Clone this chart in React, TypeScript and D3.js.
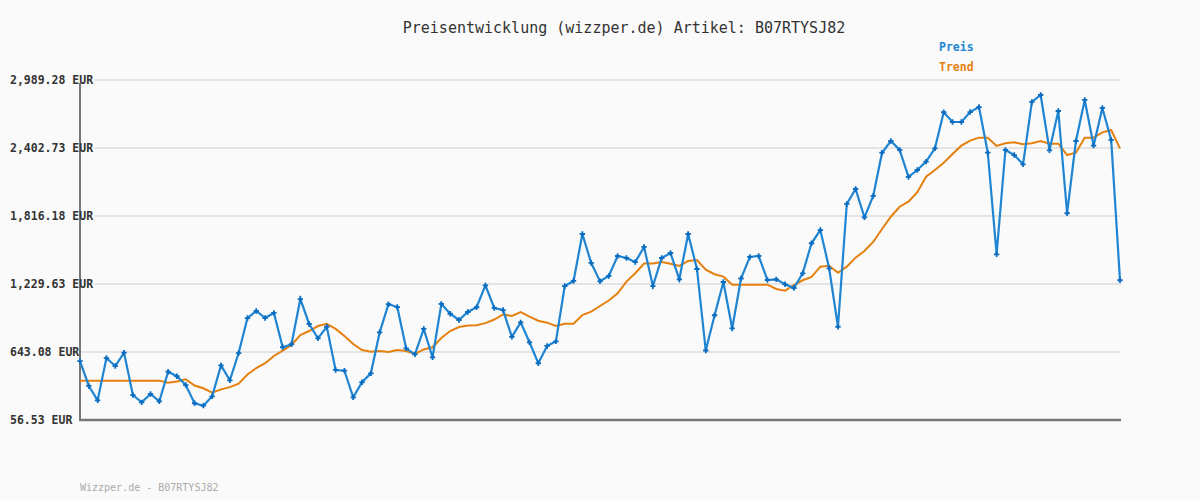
import React from "react";
import * as d3 from "d3";

const TITLE = "Preisentwicklung (wizzper.de) Artikel: B07RTYSJ82";
const FOOTER = "Wizzper.de - B07RTYSJ82";
const SERIES_NAMES = ["Preis", "Trend"];
const Y_TICKS = [56.53, 643.08, 1229.63, 1816.18, 2402.73, 2989.28];

const PREIS = [
  565, 350, 226, 591, 522, 637, 272, 209, 281, 218,
  473, 434, 358, 201, 180, 261, 528, 399, 634, 936,
  997, 936, 980, 684, 710, 1100, 885, 761, 861, 488,
  482, 252, 382, 459, 813, 1055, 1031, 675, 623, 842,
  597, 1057, 973, 919, 988, 1029, 1218, 1023, 1005, 773,
  899, 727, 546, 695, 735, 1212, 1256, 1661, 1411, 1253,
  1299, 1471, 1454, 1419, 1549, 1212, 1454, 1497, 1270, 1661,
  1359, 656, 960, 1247, 846, 1277, 1463, 1471, 1264, 1270,
  1227, 1195, 1322, 1581, 1695, 1365, 861, 1920, 2049, 1805,
  1989, 2362, 2463, 2386, 2153, 2213, 2285, 2400, 2711, 2627,
  2627, 2713, 2756, 2362, 1486, 2386, 2342, 2262, 2800, 2860,
  2383, 2722, 1840, 2463, 2817, 2423, 2748, 2472, 1262,
];

const TREND = [
  396, 396, 396, 396, 396, 396, 396, 396, 396, 396,
  378, 389, 408, 354, 330, 292, 321, 340, 370, 449,
  505, 546, 609, 654, 704, 790, 824, 867, 887, 842,
  781, 712, 660, 646, 652, 643, 660, 652, 626, 665,
  684, 764, 824, 859, 872, 873, 892, 923, 967, 954,
  988, 948, 913, 896, 867, 887, 887, 962, 991, 1040,
  1087, 1149, 1250, 1322, 1406, 1406, 1419, 1405, 1385, 1428,
  1437, 1353, 1314, 1293, 1224, 1224, 1224, 1224, 1224, 1187,
  1172, 1221, 1262, 1290, 1379, 1387, 1327, 1379, 1457, 1514,
  1592, 1704, 1810, 1896, 1940, 2021, 2155, 2213, 2276, 2351,
  2423, 2466, 2492, 2492, 2420, 2443, 2452, 2435, 2443, 2463,
  2440, 2440, 2342, 2362, 2492, 2492, 2538, 2558, 2400,
];

const W = 1200;
const H = 500;
const BLUE = "#1f84d2";
const BLUE_DARK = "#0a6cbf";
const ORANGE = "#e5800f";
const MONO = "'DejaVu Sans Mono', monospace";

export default function App() {
  const x = d3.scaleLinear().domain([0, PREIS.length - 1]).range([80, 1120]);
  const y = d3.scaleLinear().domain([Y_TICKS[0], Y_TICKS[Y_TICKS.length - 1]]).range([420, 80]);
  const fmt = d3.format(",.2f");

  const line = d3
    .line<number>()
    .x((_, i) => x(i))
    .y((d) => y(d));

  const cross = d3.symbol().type(d3.symbolCross).size(16)();
  const labelCharW = 6.93;

  return (
    <svg
      width={W}
      height={H}
      style={{ position: "fixed", left: 0, top: 0, background: "#fafafa" }}
    >
      <rect x={0} y={0} width={W} height={H} fill="#fafafa" />
      <text
        x={624}
        y={33}
        textAnchor="middle"
        fontFamily={MONO}
        fontSize={15}
        fill="#333"
      >
        {TITLE}
      </text>

      {Y_TICKS.map((t, i) => {
        const label = `${fmt(t)} EUR`;
        const x0 = Math.max(80, 10 + label.length * labelCharW + 1);
        return i === 0 ? null : (
          <line
            key={"g" + i}
            x1={x0}
            x2={1121}
            y1={y(t)}
            y2={y(t)}
            stroke="#e4e4e4"
            strokeWidth={2}
          />
        );
      })}

      <line x1={80} x2={80} y1={83} y2={421} stroke="#777" strokeWidth={2} />
      <line x1={79} x2={1121} y1={420} y2={420} stroke="#777" strokeWidth={2.5} />

      {Y_TICKS.map((t, i) => (
        <text
          key={"t" + i}
          x={10}
          y={y(t)}
          dy="0.36em"
          fontFamily={MONO}
          fontWeight="bold"
          fontSize={11.5}
          fill="#333"
        >
          {`${fmt(t)} EUR`}
        </text>
      ))}

      <path d={line(TREND) || ""} fill="none" stroke={ORANGE} strokeWidth={2} />
      <path d={line(PREIS) || ""} fill="none" stroke={BLUE} strokeWidth={2.2} />
      {PREIS.map((d, i) => (
        <path
          key={"m" + i}
          d={cross || ""}
          transform={`translate(${x(i)},${y(d)})`}
          fill={BLUE_DARK}
        />
      ))}

      <text x={939} y={47} dy="0.36em" fontFamily={MONO} fontWeight="bold" fontSize={11.5} fill={BLUE}>
        {SERIES_NAMES[0]}
      </text>
      <text x={939} y={67} dy="0.36em" fontFamily={MONO} fontWeight="bold" fontSize={11.5} fill={ORANGE}>
        {SERIES_NAMES[1]}
      </text>

      <text x={80} y={487} dy="0.36em" fontFamily={MONO} fontSize={10} fill="#aaa">
        {FOOTER}
      </text>
    </svg>
  );
}
